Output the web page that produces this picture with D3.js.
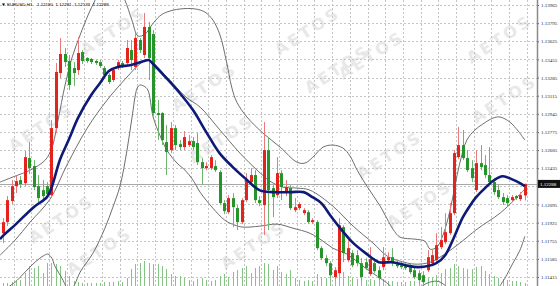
<!DOCTYPE html>
<html><head><meta charset="utf-8">
<script src="https://cdn.jsdelivr.net/npm/d3@7"></script>
<style>html,body{margin:0;padding:0;background:#fff;overflow:hidden}svg{display:block}</style>
</head><body><svg id="c" width="560" height="286"></svg>
<script>
// ---- data ----
const symbol = "EURUSD,H1";
const lastOHLC = [1.12180, 1.12291, 1.12133, 1.12288];
const opens = [1.11826,1.11930,1.12127,1.12267,1.12324,1.12295,1.12530,1.12455,1.12267,1.12230,
1.12267,1.12183,1.12811,1.13327,1.13506,1.13440,1.13374,1.13355,1.13524,1.13468,
1.13459,1.13440,1.13430,1.13374,1.13309,1.13262,1.13374,1.13421,1.13421,1.13543,
1.13384,1.13637,1.13496,1.13759,1.13693,1.12952,1.12952,1.12680,1.12605,1.12811,
1.12661,1.12633,1.12652,1.12689,1.12671,1.12492,1.12436,1.12436,1.12455,1.12399,
1.12108,1.12023,1.12155,1.12061,1.11930,1.12136,1.12305,1.12371,1.12136,1.12089,
1.12605,1.12249,1.12183,1.12389,1.12202,1.12249,1.12042,1.12061,1.12014,1.12023,
1.11930,1.11930,1.11686,1.11592,1.11545,1.11414,1.11451,1.11883,1.11573,1.11639,
1.11620,1.11545,1.11554,1.11442,1.11545,1.11479,1.11508,1.11573,1.11601,1.11545,
1.11526,1.11526,1.11508,1.11479,1.11451,1.11432,1.11479,1.11545,1.11573,1.11695,
1.11742,1.11826,1.12014,1.12539,1.12652,1.12530,1.12436,1.12230,1.12483,1.12464,
1.12371,1.12305,1.12230,1.12164,1.12155,1.12136,1.12174,1.12145,1.12180];
const closes = [1.11930,1.12136,1.12267,1.12314,1.12286,1.12539,1.12436,1.12258,1.12155,1.12174,
1.12192,1.12811,1.13337,1.13506,1.13430,1.13215,1.13327,1.13515,1.13440,1.13440,
1.13430,1.13421,1.13393,1.13309,1.13243,1.13355,1.13430,1.13393,1.13562,1.13449,
1.13656,1.13543,1.13759,1.13468,1.12952,1.12933,1.12699,1.12586,1.12811,1.12652,
1.12633,1.12727,1.12689,1.12633,1.12492,1.12436,1.12455,1.12539,1.12417,1.12108,
1.12033,1.12155,1.12070,1.11930,1.12136,1.12324,1.12371,1.12136,1.12108,1.12605,
1.12230,1.12164,1.12389,1.12258,1.12258,1.12061,1.12070,1.12099,1.12042,1.11930,
1.11948,1.11686,1.11592,1.11545,1.11432,1.11479,1.11901,1.11639,1.11686,1.11526,
1.11545,1.11414,1.11498,1.11583,1.11470,1.11404,1.11601,1.11601,1.11545,1.11517,
1.11508,1.11498,1.11461,1.11414,1.11386,1.11367,1.11601,1.11620,1.11714,1.11761,
1.11836,1.12014,1.12577,1.12652,1.12530,1.12417,1.12342,1.12483,1.12446,1.12371,
1.12305,1.12211,1.12164,1.12117,1.12108,1.12164,1.12155,1.12183,1.12288];
const highs = [1.11967,1.12174,1.12324,1.12371,1.12361,1.12596,1.12680,1.12511,1.12371,1.12324,
1.12305,1.12886,1.13421,1.13656,1.13562,1.13496,1.13430,1.13665,1.13543,1.13477,
1.13468,1.13449,1.13449,1.13393,1.13327,1.13374,1.13449,1.13440,1.13637,1.13637,
1.13703,1.13656,1.13890,1.13806,1.13731,1.13074,1.12961,1.12840,1.12868,1.12840,
1.12699,1.12783,1.12746,1.12727,1.12765,1.12530,1.12492,1.12558,1.12511,1.12417,
1.12136,1.12183,1.12202,1.12089,1.12155,1.12389,1.12436,1.12417,1.12174,1.12868,
1.12727,1.12277,1.12539,1.12417,1.12324,1.12277,1.12155,1.12117,1.12061,1.12042,
1.11967,1.11948,1.11704,1.11620,1.11564,1.11508,1.11967,1.11901,1.11761,1.11667,
1.11667,1.11592,1.11592,1.11695,1.11592,1.11517,1.11695,1.11648,1.11686,1.11573,
1.11554,1.11545,1.11536,1.11517,1.11479,1.11470,1.11667,1.11667,1.11826,1.11883,
1.12014,1.12108,1.12605,1.12821,1.12793,1.12605,1.12511,1.12605,1.12652,1.12558,
1.12633,1.12342,1.12277,1.12202,1.12183,1.12183,1.12183,1.12211,1.12291];
const lows = [1.11733,1.11892,1.12099,1.12202,1.12249,1.12267,1.12380,1.12230,1.12117,1.12136,
1.12155,1.12155,1.12765,1.13280,1.13384,1.13168,1.13205,1.13309,1.13412,1.13421,
1.13412,1.13402,1.13374,1.13290,1.13224,1.13243,1.13355,1.13374,1.13402,1.13355,
1.13355,1.13515,1.13468,1.13262,1.12924,1.12699,1.12652,1.12371,1.12577,1.12605,
1.12605,1.12605,1.12633,1.12605,1.12464,1.12277,1.12417,1.12417,1.12399,1.12089,
1.12005,1.12005,1.11883,1.11855,1.11911,1.12117,1.12277,1.12108,1.12080,1.11808,
1.11855,1.11976,1.12155,1.12136,1.12174,1.12042,1.12023,1.12042,1.11995,1.11911,
1.11911,1.11667,1.11573,1.11517,1.11414,1.11395,1.11432,1.11554,1.11554,1.11508,
1.11517,1.11376,1.11479,1.11423,1.11451,1.11386,1.11479,1.11545,1.11517,1.11498,
1.11489,1.11479,1.11442,1.11395,1.11357,1.11339,1.11461,1.11526,1.11554,1.11676,
1.11723,1.11808,1.11995,1.12521,1.12511,1.12399,1.12305,1.12211,1.12417,1.12342,
1.12277,1.12183,1.12145,1.12089,1.12080,1.12117,1.12136,1.12127,1.12133];
const volumes = [300,300,400,500,600,1300,2000,1800,2000,1300,
2300,2300,2200,2000,1500,1000,500,400,300,300,
300,300,300,400,400,400,500,400,800,1700,
2200,2300,2500,2300,2200,2200,2000,1700,1200,1000,
1000,800,600,500,700,800,600,500,600,1000,
1200,900,1400,1600,1800,2000,1300,1800,2000,2300,
2200,1600,2000,1400,1200,1600,800,600,500,600,
500,1200,900,800,1000,700,1800,1400,1000,800,
700,800,600,700,600,600,700,500,500,400,
400,400,500,500,600,600,800,900,1100,1300,
1700,1800,2200,2000,1800,1700,1700,1900,2000,1500,
1200,1000,800,700,600,500,500,400,300];
// blue moving average [bar, price]
const maLine = [[-0.6,1.11770],[0,1.11798],[3,1.11911],[7,1.12070],[10,1.12164],[11,1.12249],[13,1.12521],[15,1.12708],[17,1.12905],[20,1.13121],[22,1.13233],[24,1.13346],[26,1.13384],[29,1.13402],[32,1.13440],[33,1.13449],[34,1.13412],[37,1.13280],[40,1.13140],[43,1.12980],[46,1.12774],[49,1.12577],[52,1.12446],[55,1.12333],[58,1.12230],[61,1.12211],[65,1.12211],[68,1.12211],[70,1.12164],[72,1.12108],[74,1.11995],[77,1.11836],[79,1.11742],[82,1.11639],[85,1.11554],[88,1.11554],[91,1.11526],[94,1.11508],[98,1.11545],[100,1.11620],[102,1.11788],[104,1.11976],[106,1.12108],[107,1.12164],[109,1.12249],[111,1.12322],[113,1.12360],[115,1.12333],[117,1.12294],[118,1.12266]];
// thin grey slow average
const slowLine = [[-0.6,1.11620],[2.8,1.11761],[6.2,1.11930],[10.7,1.12145],[14.5,1.12464],[19.1,1.12811],[23.6,1.13074],[28.1,1.13290],[31,1.13412],[32.8,1.13449],[37.1,1.13290],[41.4,1.13102],[44.6,1.13008],[49.1,1.12793],[53.6,1.12577],[57.5,1.12417],[60.4,1.12314],[63.3,1.12258],[66.5,1.12249],[69.4,1.12230],[74.6,1.12080],[79.2,1.11892],[83.7,1.11733],[86.9,1.11611],[89.8,1.11564],[93.2,1.11536],[96.6,1.11554],[99.9,1.11630],[103.3,1.11733],[107.2,1.11864],[112.4,1.12014],[115.8,1.12145],[118,1.12239]];
// Bollinger upper / lower
const upperBand = [[-0.6,1.12305],[2.8,1.12361],[6.2,1.12417],[9.6,1.12511],[11.1,1.12624],[12.5,1.12886],[14.1,1.13215],[15.7,1.13477],[17.5,1.13684],[19.3,1.13871],[20.9,1.14012],[22.4,1.14125],[24.2,1.14218],[26,1.14125],[27.6,1.14012],[29.2,1.13824],[30.6,1.13674],[32.2,1.13693],[33.7,1.13778],[35.5,1.13862],[37.1,1.13899],[40.1,1.13928],[43.5,1.13928],[45.7,1.13899],[47.5,1.13824],[49.1,1.13684],[50.5,1.13449],[51.8,1.13187],[52.9,1.13055],[55.2,1.12915],[58.8,1.12765],[62.7,1.12633],[66.5,1.12492],[68.3,1.12483],[70.1,1.12539],[72.4,1.12633],[74.6,1.12652],[76.9,1.12624],[78.5,1.12549],[80.1,1.12417],[82.3,1.12267],[85.3,1.12080],[88.2,1.11864],[89.8,1.11789],[93.2,1.11770],[95.4,1.11751],[96.6,1.11676],[98.1,1.11695],[99.5,1.11808],[101.1,1.12042],[102.2,1.12267],[103.3,1.12483],[104.9,1.12699],[106.7,1.12793],[108.5,1.12849],[110.8,1.12905],[112.4,1.12915],[114.6,1.12868],[116.5,1.12783],[118,1.12699]];
const lowerBand = [[-0.6,1.11273],[2.8,1.11367],[4.6,1.11442],[7.3,1.11554],[9.1,1.11611],[10.2,1.11630],[11.1,1.11592],[11.8,1.11517],[13.4,1.11404],[14.5,1.11311],[15.2,1.11273],[16.3,1.11348],[17.5,1.11461],[20.4,1.11639],[23.1,1.11873],[24.9,1.12070],[26.5,1.12267],[28.1,1.12605],[29.2,1.12905],[30.4,1.13187],[31,1.13215],[31.9,1.13205],[32.8,1.13168],[34,1.12915],[35.5,1.12746],[37.1,1.12605],[39.4,1.12483],[41.2,1.12417],[43,1.12324],[44.6,1.12211],[47.5,1.12061],[50.2,1.11948],[52.5,1.11901],[54.3,1.11883],[58.1,1.11892],[62,1.11911],[65.6,1.11873],[69.4,1.11826],[72.4,1.11751],[74.6,1.11686],[77.8,1.11630],[82.3,1.11489],[86.9,1.11357],[89.1,1.11273],[92,1.11198],[94.3,1.11311],[95.9,1.11357],[98.1,1.11376],[99.9,1.11339],[101.5,1.11264],[105.6,1.11104],[110.1,1.11198],[111.7,1.11292],[113.5,1.11404],[115.3,1.11545],[116.9,1.11667],[118,1.11798]];
const priceTicks = [1.13965,1.13795,1.13625,1.13455,1.13285,1.13115,1.12945,1.12775,1.12605,1.12435,1.12265,1.12095,1.11925,1.11755,1.11585,1.11415];
const hiddenTick = 1.12265;
const watermarkText = "AETOS";
const watermarks = [[114,32],[308,32],[338,70],[500,40],[505,100],[42,128],[205,88],[222,140],[390,156],[62,220],[100,252],[254,246],[420,205],[372,56]];

// ---- drawing ----
const W = 560, H = 286, plotR = 537;
const svg = d3.select("#c");
const x = d3.scaleLinear().domain([0, 118]).range([2.7, 524.85]);
const y = d3.scaleLinear().domain([1.11331, 1.14012]).range([H, 0]);
const yv = d3.scaleLinear().domain([0, 3000]).range([H, H - 30]);

svg.append("rect").attr("width", W).attr("height", H).attr("fill", "#fff");
svg.append("defs").append("clipPath").attr("id", "clip")
  .append("rect").attr("x", 0).attr("y", 0).attr("width", plotR).attr("height", H);

const plot = svg.append("g").attr("clip-path", "url(#clip)");

// watermarks
plot.append("g").selectAll("text").data(watermarks).join("text")
  .attr("transform", d => `translate(${d[0]},${d[1]}) rotate(-33)`)
  .attr("text-anchor", "middle").attr("dominant-baseline", "middle")
  .attr("font-family", "DejaVu Sans, sans-serif").attr("font-weight", "bold")
  .attr("font-size", 16).attr("letter-spacing", 3)
  .attr("fill", "#e8e8e8").text(watermarkText);

// grid
const grid = plot.append("g").attr("stroke", "#c4c4c4").attr("stroke-width", 1).attr("stroke-dasharray", "2,2");
grid.selectAll("line.h").data(priceTicks).join("line").attr("class", "h")
  .attr("x1", 0).attr("x2", plotR)
  .attr("y1", d => Math.round(y(d)) + 0.5).attr("y2", d => Math.round(y(d)) + 0.5);
const gridBars = d3.range(0, 30).map(k => 2.46 + 4 * k);
grid.selectAll("line.v").data(gridBars).join("line").attr("class", "v")
  .attr("y1", 0).attr("y2", H)
  .attr("x1", d => Math.round(x(d)) + 0.5).attr("x2", d => Math.round(x(d)) + 0.5);

const idx = d3.range(opens.length);

// volumes
plot.append("g").selectAll("line").data(idx).join("line")
  .attr("x1", i => Math.round(x(i)) + 0.5).attr("x2", i => Math.round(x(i)) + 0.5)
  .attr("y1", yv(0)).attr("y2", i => yv(volumes[i]))
  .attr("stroke", "#86c486").attr("stroke-width", 1);

// current price line
plot.append("line").attr("x1", 0).attr("x2", plotR)
  .attr("y1", Math.round(y(lastOHLC[3])) + 0.5).attr("y2", Math.round(y(lastOHLC[3])) + 0.5)
  .attr("stroke", "#a8a8a8").attr("stroke-width", 1);

// thin grey lines
const ln = d3.line().x(d => x(d[0])).y(d => y(d[1])).curve(d3.curveCatmullRom.alpha(0.5));
[upperBand, lowerBand, slowLine].forEach(s => {
  plot.append("path").datum(s).attr("d", ln).attr("fill", "none")
    .attr("stroke", "#6e6e6e").attr("stroke-width", 1);
});

// candles
const up = i => closes[i] >= opens[i];
const cg = plot.append("g");
cg.selectAll("line").data(idx).join("line")
  .attr("x1", i => Math.round(x(i)) + 0.5).attr("x2", i => Math.round(x(i)) + 0.5)
  .attr("y1", i => y(highs[i])).attr("y2", i => y(lows[i]))
  .attr("stroke", i => up(i) ? "#e77a7a" : "#6fb56f").attr("stroke-width", 1);
cg.selectAll("rect").data(idx).join("rect")
  .attr("x", i => Math.round(x(i)) - 1).attr("width", 3)
  .attr("y", i => y(Math.max(opens[i], closes[i])))
  .attr("height", i => Math.max(1, Math.abs(y(opens[i]) - y(closes[i]))))
  .attr("fill", i => up(i) ? "#e4231d" : "#25952a");

// blue MA
plot.append("path").datum(maLine).attr("d", ln).attr("fill", "none")
  .attr("stroke", "#0d1a78").attr("stroke-width", 2.6).attr("stroke-linejoin", "round");

// header
const hd = svg.append("g").attr("font-family", "Liberation Sans, Arial, sans-serif").attr("font-size", 4.4).attr("fill", "#000");
hd.append("path").attr("d", "M2,3.5 L5,3.5 L3.5,6 Z").attr("fill", "#000");
hd.append("text").attr("x", 7).attr("y", 6.3).text(symbol);
hd.append("text").attr("x", 37).attr("y", 6.3).attr("word-spacing", 1.5).text(lastOHLC.map(d => d.toFixed(5)).join(" "));

// right axis
const ax = svg.append("g").attr("transform", `translate(${plotR},0)`)
  .call(d3.axisRight(y).tickValues(priceTicks.filter(d => d !== hiddenTick)).tickSize(2).tickFormat(d3.format(".5f")));
ax.select(".domain").remove();
ax.selectAll("line").attr("stroke", "#555");
ax.selectAll("text").attr("x", 4).attr("font-size", 5).attr("font-family", "Liberation Serif, serif").attr("fill", "#222");
svg.append("line").attr("x1", plotR + 0.5).attr("x2", plotR + 0.5).attr("y1", 0).attr("y2", H)
  .attr("stroke", "#8a8a8a").attr("stroke-width", 1.5);

// price box
const yb = y(lastOHLC[3]);
svg.append("rect").attr("x", plotR + 1).attr("y", yb - 4).attr("width", W - plotR - 1).attr("height", 8).attr("fill", "#111");
svg.append("text").attr("x", plotR + 3).attr("y", yb + 2).attr("font-size", 5)
  .attr("font-family", "Liberation Serif, serif").attr("fill", "#fff").text(lastOHLC[3].toFixed(5));
</script></body></html>
